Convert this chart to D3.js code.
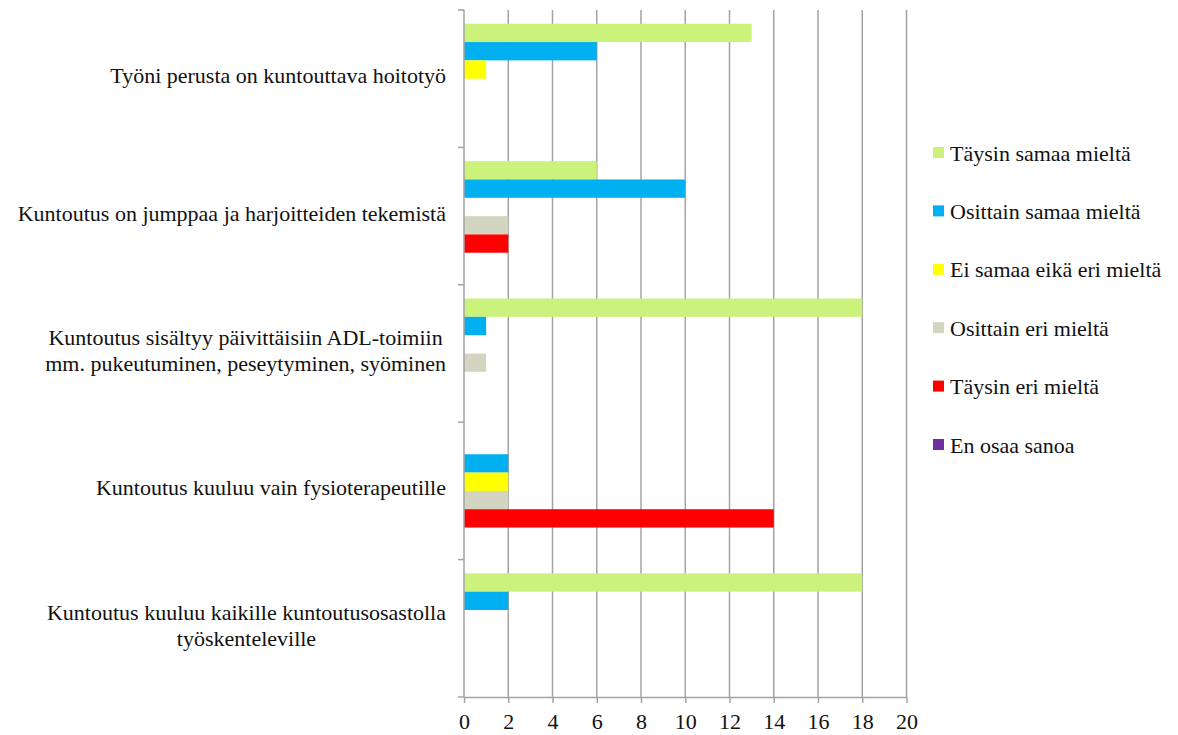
<!DOCTYPE html>
<html>
<head>
<meta charset="utf-8">
<script src="https://cdn.jsdelivr.net/npm/d3@7"></script>
<style>
  html, body { margin: 0; padding: 0; background: #fff; }
  svg { display: block; }
  text { font-family: "Liberation Serif", "Times New Roman", serif; fill: #111; }
</style>
</head>
<body>
<svg id="chart" width="1178" height="735"></svg>
<script>
// Statements (top to bottom) — lines split where the label wraps
const categories = [
  ["Työni perusta on kuntouttava hoitotyö"],
  ["Kuntoutus on jumppaa ja harjoitteiden tekemistä"],
  ["Kuntoutus sisältyy päivittäisiin ADL-toimiin", "mm. pukeutuminen, peseytyminen, syöminen"],
  ["Kuntoutus kuuluu vain fysioterapeutille"],
  ["Kuntoutus kuuluu kaikille kuntoutusosastolla", "työskenteleville"]
];

const seriesNames = [
  "Täysin samaa mieltä",
  "Osittain samaa mieltä",
  "Ei samaa eikä eri mieltä",
  "Osittain eri mieltä",
  "Täysin eri mieltä",
  "En osaa sanoa"
];
const seriesColors = ["#CBF27B", "#00B0F0", "#FFFF00", "#D4D5C0", "#FF0000", "#7030A0"];

// Answer counts per statement, one array per answer option
const taysinSamaa   = [13, 6, 18, 0, 18];
const osittainSamaa = [6, 10, 1, 2, 2];
const eiSamaaEiEri  = [1, 0, 0, 2, 0];
const osittainEri   = [0, 2, 1, 2, 0];
const taysinEri     = [0, 2, 0, 14, 0];
const enOsaaSanoa   = [0, 0, 0, 0, 0];
const seriesValues = [taysinSamaa, osittainSamaa, eiSamaaEiEri, osittainEri, taysinEri, enOsaaSanoa];

const xTicks = [0, 2, 4, 6, 8, 10, 12, 14, 16, 18, 20];

const svg = d3.select("#chart");
const plotLeft = 464, plotRight = 906.5, plotTop = 10, plotBottom = 697;
const gridColor = "#A3A3A3";
const fontSize = 22;

const x = d3.scaleLinear().domain([0, 20]).range([plotLeft, plotRight]);
const y0 = d3.scaleBand().domain(d3.range(categories.length)).range([plotTop, plotBottom]).paddingInner(0).paddingOuter(0);
const y1 = d3.scaleBand().domain(d3.range(seriesNames.length)).range([0, y0.bandwidth()])
  .paddingInner(0).paddingOuter(0.75);

// vertical gridlines
svg.append("g").selectAll("line")
  .data(xTicks.filter(t => t > 0))
  .join("line")
  .attr("x1", d => x(d)).attr("x2", d => x(d))
  .attr("y1", plotTop).attr("y2", plotBottom)
  .attr("stroke", gridColor).attr("stroke-width", 1.5);

// bars
const groups = svg.append("g").selectAll("g")
  .data(categories.map((c, i) => i))
  .join("g")
  .attr("transform", i => `translate(0,${y0(i)})`);

groups.selectAll("rect")
  .data(i => seriesValues.map((vals, s) => ({ s, v: vals[i] })))
  .join("rect")
  .attr("x", x(0))
  .attr("y", d => y1(d.s))
  .attr("width", d => x(d.v) - x(0))
  .attr("height", y1.bandwidth())
  .attr("fill", d => seriesColors[d.s]);

// bottom axis
const xAxis = d3.axisBottom(x).tickValues(xTicks).tickSizeInner(6).tickSizeOuter(0).tickPadding(10);
const gx = svg.append("g").attr("transform", `translate(0,${plotBottom})`).call(xAxis);
gx.select(".domain").attr("stroke", gridColor).attr("stroke-width", 1.5);
gx.selectAll(".tick line").attr("stroke", gridColor).attr("stroke-width", 1.5);
gx.selectAll(".tick text").attr("font-size", fontSize).attr("font-family", "Liberation Serif").attr("fill", "#111");

// left axis line with ticks at category boundaries
svg.append("line")
  .attr("x1", plotLeft).attr("x2", plotLeft).attr("y1", plotTop).attr("y2", plotBottom)
  .attr("stroke", gridColor).attr("stroke-width", 1.5);
const boundaries = y0.domain().map(i => y0(i)).concat([plotBottom]);
svg.append("g").selectAll("line")
  .data(boundaries)
  .join("line")
  .attr("x1", plotLeft - 6).attr("x2", plotLeft)
  .attr("y1", d => d).attr("y2", d => d)
  .attr("stroke", gridColor).attr("stroke-width", 1.5);

// category labels: block right-aligned, wrapped lines centered within the block
const labelRight = 446, lineHeight = 26;
categories.forEach((lines, i) => {
  const cy = y0(i) + y0.bandwidth() / 2 - 3;
  const g = svg.append("g");
  const texts = lines.map((ln, k) => g.append("text")
    .attr("font-size", fontSize)
    .attr("text-anchor", "middle")
    .attr("dominant-baseline", "central")
    .attr("y", cy + (k - (lines.length - 1) / 2) * lineHeight)
    .text(ln));
  const w = d3.max(texts, t => t.node().getComputedTextLength());
  texts.forEach(t => t.attr("x", labelRight - w / 2));
});

// legend
const legendY0 = 153, legendStep = 58.4;
const legend = svg.append("g").selectAll("g")
  .data(seriesNames.map((n, i) => i))
  .join("g")
  .attr("transform", i => `translate(933,${legendY0 + i * legendStep})`);
legend.append("rect")
  .attr("x", 0).attr("y", -6).attr("width", 11).attr("height", 11)
  .attr("fill", i => seriesColors[i]);
legend.append("text")
  .attr("x", 17).attr("y", 0)
  .attr("dominant-baseline", "central")
  .attr("font-size", fontSize)
  .text(i => seriesNames[i]);
</script>
</body>
</html>
